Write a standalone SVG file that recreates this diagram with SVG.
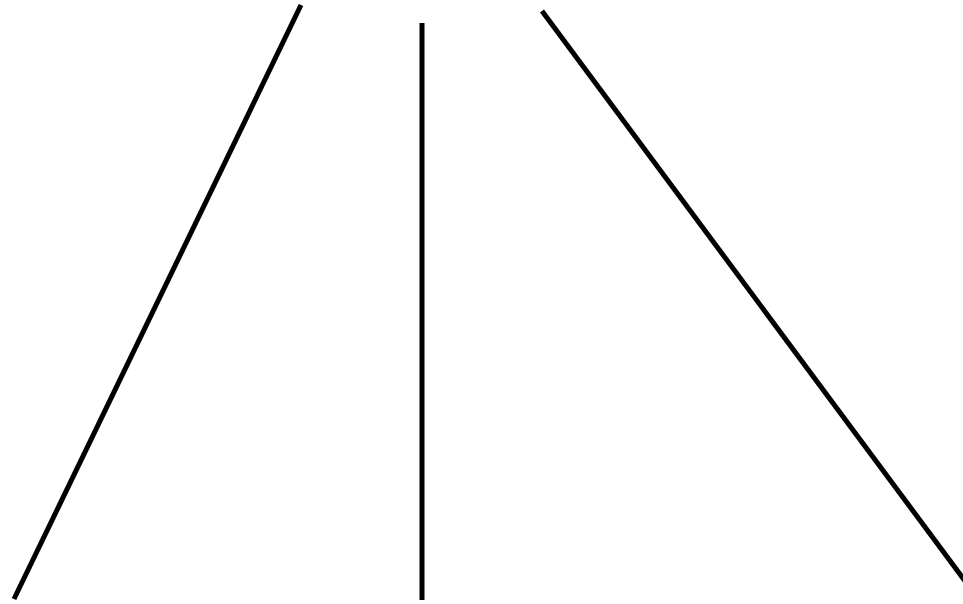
<svg xmlns="http://www.w3.org/2000/svg" width="963" height="604" viewBox="0 0 963 604">
<style>.ln{stroke:#000;stroke-width:5;fill:none}</style>
<rect width="963" height="604" fill="#fff"/>
<g id="connectors">
<line class="ln" x1="301" y1="5" x2="14" y2="599"/>
<line class="ln" x1="422" y1="23" x2="422" y2="600"/>
<line class="ln" x1="542" y1="11" x2="968" y2="585"/>
</g>
</svg>
